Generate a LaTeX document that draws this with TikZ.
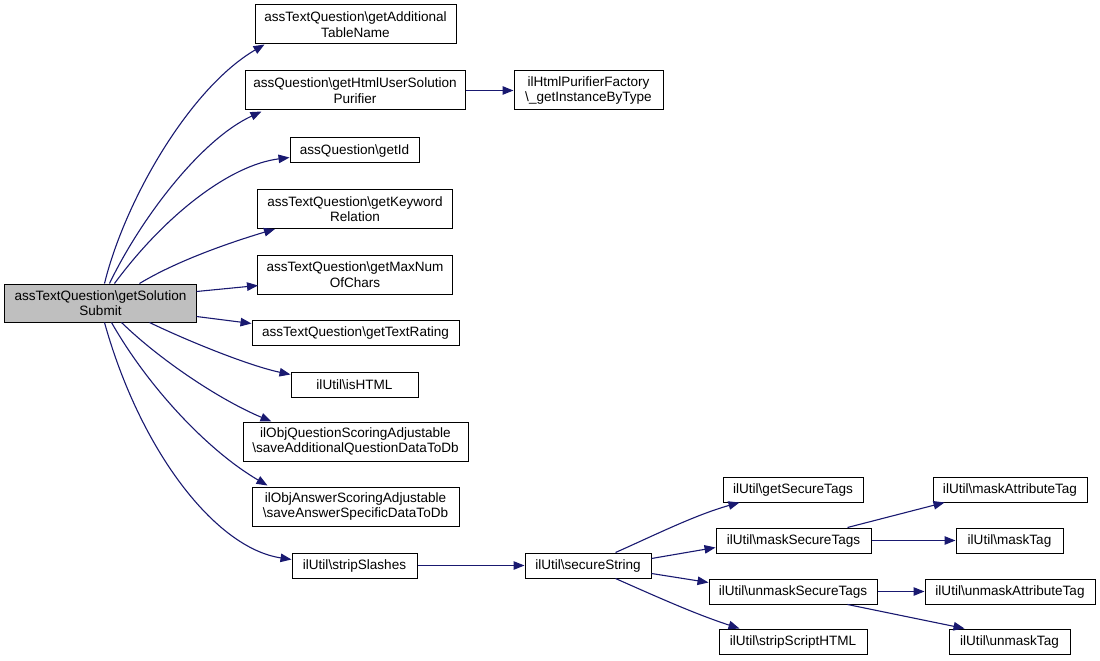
\documentclass[tikz,border=0pt]{standalone}
\usepackage{fontspec}
\setmainfont{Liberation Sans}
\usetikzlibrary{arrows.meta,calc}
\definecolor{edgeblue}{RGB}{25,25,112}
\definecolor{rootgray}{RGB}{191,191,191}
\begin{document}
\begin{tikzpicture}[x=1bp,y=-1bp,
  box/.style={draw=black,line width=1bp,fill=white,inner sep=0pt,align=center,
    font=\fontsize{13.6}{15.5}\selectfont},
  one/.style={box,minimum height=25bp},
  two/.style={box,minimum height=39bp},
  link/.style={draw=edgeblue,line width=1.1bp,-{Triangle[length=11bp,width=8.5bp]},fill=none},
]
\useasboundingbox (0,0) rectangle (1100,661);
% root
\node[two,fill=rootgray,minimum width=191bp,minimum height=38bp] (main) at (100.5,303) {assTextQuestion\textbackslash getSolution\\Submit};
% column 2
\node[two,minimum width=201bp] (n1) at (355.5,24.5) {assTextQuestion\textbackslash getAdditional\\TableName};
\node[two,minimum width=220bp] (n2) at (355,90.5) {assQuestion\textbackslash getHtmlUserSolution\\Purifier};
\node[one,minimum width=129bp] (n3) at (354.5,150.5) {assQuestion\textbackslash getId};
\node[two,minimum width=195bp] (n4) at (355,209) {assTextQuestion\textbackslash getKeyword\\Relation};
\node[two,minimum width=195bp] (n5) at (355,274.5) {assTextQuestion\textbackslash getMaxNum\\OfChars};
\node[one,minimum width=207bp] (n6) at (355.5,332.5) {assTextQuestion\textbackslash getTextRating};
\node[one,minimum width=127bp] (n7) at (354.5,384.5) {ilUtil\textbackslash isHTML};
\node[two,minimum width=225bp] (n8) at (355.5,441.5) {ilObjQuestionScoringAdjustable\\\textbackslash saveAdditionalQuestionDataToDb};
\node[two,minimum width=207bp] (n9) at (355.5,506.5) {ilObjAnswerScoringAdjustable\\\textbackslash saveAnswerSpecificDataToDb};
\node[one,minimum width=125bp] (n10) at (354.5,565.5) {ilUtil\textbackslash stripSlashes};
% column 3
\node[two,minimum width=149bp] (pf) at (588.5,90.5) {ilHtmlPurifierFactory\\\textbackslash \_getInstanceByType};
\node[one,minimum width=126bp] (ss) at (588,565.5) {ilUtil\textbackslash secureString};
% column 4
\node[one,minimum width=140bp] (gst) at (793,489.5) {ilUtil\textbackslash getSecureTags};
\node[one,minimum width=155bp] (mst) at (793.5,540.5) {ilUtil\textbackslash maskSecureTags};
\node[one,minimum width=168bp] (umst) at (793,591.5) {ilUtil\textbackslash unmaskSecureTags};
\node[one,minimum width=148bp] (ssh) at (793,641.5) {ilUtil\textbackslash stripScriptHTML};
% column 5
\node[one,minimum width=154bp] (mat) at (1010,489.5) {ilUtil\textbackslash maskAttributeTag};
\node[one,minimum width=107bp] (mt) at (1009.5,540.5) {ilUtil\textbackslash maskTag};
\node[one,minimum width=170bp] (uat) at (1010,591.5) {ilUtil\textbackslash unmaskAttributeTag};
\node[one,minimum width=121bp] (ut) at (1009.5,641.5) {ilUtil\textbackslash unmaskTag};
% edges from root
\draw[link] ($(main.north west)+(100,0)$) .. controls (125,200) and (190,88) .. ($(n1.south west)+(10,0)$);
\draw[link] ($(main.north west)+(105,0)$) .. controls (140,220) and (200,140) .. ($(n2.south west)+(17,1)$);
\draw[link] ($(main.north west)+(110,0)$) .. controls (165,215) and (230,165) .. ($(n3.south west)+(0,-6)$);
\draw[link] ($(main.north west)+(135,0)$) .. controls (175,262) and (225,244) .. ($(n4.south west)+(18,0)$);
\draw[link] ($(main.north east)+(0,8)$) -- ($(n5.south west)+(1,-9)$);
\draw[link] ($(main.south east)+(0,-6)$) -- ($(n6.west)+(0,-9)$);
\draw[link] ($(main.south west)+(145,0)$) .. controls (190,342) and (250,366) .. ($(n7.west)+(0,-10)$);
\draw[link] ($(main.south west)+(117,0)$) .. controls (160,360) and (220,400) .. ($(n8.north west)+(29,0)$);
\draw[link] ($(main.south west)+(107,0)$) .. controls (150,390) and (210,452) .. ($(n9.north west)+(16,-1)$);
\draw[link] ($(main.south west)+(100,0)$) .. controls (140,450) and (215,548) .. ($(n10.west)+(0,-6)$);
% other edges
\draw[link] (n2.east) -- (pf.west);
\draw[link] (n10.east) -- (ss.west);
\draw[link] ($(ss.north west)+(91,0)$) .. controls (655,535) and (695,515) .. ($(gst.south west)+(17,0)$);
\draw[link] ($(ss.east)+(0,-7)$) -- ($(mst.west)+(0,7)$);
\draw[link] ($(ss.east)+(0,8)$) -- ($(umst.west)+(0,-9)$);
\draw[link] ($(ss.south west)+(91,0)$) .. controls (655,596) and (695,614) .. ($(ssh.north west)+(21,0)$);
\draw[link] ($(mst.north west)+(132,0)$) -- ($(mat.south west)+(12,0)$);
\draw[link] (mst.east) -- (mt.west);
\draw[link] (umst.east) -- (uat.west);
\draw[link] ($(umst.south west)+(139,0)$) -- ($(ut.north west)+(16,0)$);
\end{tikzpicture}
\end{document}
